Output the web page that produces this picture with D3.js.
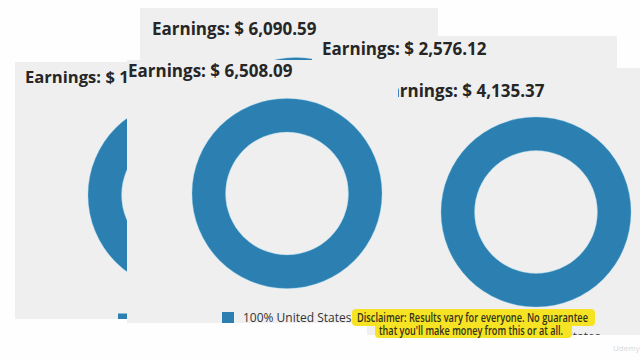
<!DOCTYPE html>
<html>
<head>
<meta charset="utf-8">
<script src="https://cdn.jsdelivr.net/npm/d3@7/dist/d3.min.js"></script>
<style>
  html, body { margin: 0; padding: 0; background: #fefefe; }
  svg { display: block; }
</style>
</head>
<body>
<svg id="chart" width="640" height="360"></svg>
<script>
// ---- data ----
const earningsLabels = ["Earnings: $ 1", "Earnings: $ 6,090.59", "Earnings: $ 2,576.12", "Earnings: $ 4,135.37", "Earnings: $ 6,508.09"];
const countries = ["United States"];
const shares = [100];
const disclaimerLines = ["Disclaimer: Results vary for everyone. No guarantee", "that you'll make money from this or at all."];
const watermark = "Udemy";

// ---- layout (back to front) ----
const panels = [
  { x: 15,  y: 62, w: 160, h: 257, tx: 25,  ty: 83, fs: 16.6, cx: 183, cy: 195 },
  { x: 140, y: 8,  w: 298, h: 300, tx: 152, ty: 35, fs: 17, cx: 296, cy: 152.5 },
  { x: 312, y: 36, w: 305, h: 280, tx: 322, ty: 55, fs: 17, cx: 469, cy: 171 },
  { x: 367, y: 68, w: 273, h: 267, tx: 380, ty: 97, fs: 17, cx: 536, cy: 212 },
  { x: 127, y: 60, w: 271, h: 263, tx: 128, ty: 77, fs: 17, cx: 287, cy: 193.5 }
];

const svg = d3.select("#chart");
svg.append("rect").attr("width", 640).attr("height", 360).attr("fill", "#fefefe");

const pie = d3.pie().sort(null).value(d => d);
const arc = d3.arc().innerRadius(61.5).outerRadius(95);
const color = d3.scaleOrdinal().domain(countries).range(["#2b80b1"]);
const defs = svg.append("defs");

panels.forEach((p, i) => {
  defs.append("clipPath").attr("id", "clip" + i)
    .append("rect").attr("x", p.x).attr("y", p.y).attr("width", p.w).attr("height", p.h);
  const g = svg.append("g").attr("clip-path", `url(#clip${i})`);
  g.append("rect").attr("x", p.x).attr("y", p.y).attr("width", p.w).attr("height", p.h).attr("fill", "#efeff0");
  g.append("text").attr("x", p.tx).attr("y", p.ty)
    .attr("font-family", "'Open Sans', sans-serif").attr("font-weight", 700)
    .attr("font-size", p.fs).attr("fill", "#262626")
    .text(earningsLabels[i]);
  const dg = g.append("g").attr("transform", `translate(${p.cx},${p.cy})`);
  dg.selectAll("path").data(pie(shares)).join("path")
    .attr("d", arc).attr("fill", (d, j) => color(countries[j]))
    .attr("stroke", "#7cc3e6").attr("stroke-width", 0.6).attr("stroke-opacity", 0.6);
  const lg = g.append("g").attr("transform", `translate(${p.cx - 65},${p.cy + 118.5})`);
  countries.forEach((c, j) => {
    lg.append("rect").attr("width", 12).attr("height", 12).attr("fill", color(c));
    lg.append("text").attr("x", 21).attr("y", 10)
      .attr("font-family", "'Open Sans', sans-serif").attr("font-size", 12).attr("fill", "#333")
      .text(`${shares[j]}% ${c}`);
  });
});

// disclaimer caption
const cap = svg.append("g");
const capBoxes = [ { x: 352, y: 309, w: 243, h: 17 }, { x: 375, y: 323, w: 197, h: 15 } ];
cap.selectAll("rect").data(capBoxes).join("rect")
  .attr("x", d => d.x).attr("y", d => d.y).attr("width", d => d.w).attr("height", d => d.h)
  .attr("rx", 4).attr("fill", "#f5e324");
const capText = [ { x: 357, y: 321.5, len: 231 }, { x: 379, y: 334.5, len: 184 } ];
cap.selectAll("text").data(disclaimerLines).join("text")
  .attr("x", (d, i) => capText[i].x).attr("y", (d, i) => capText[i].y)
  .attr("textLength", (d, i) => capText[i].len).attr("lengthAdjust", "spacingAndGlyphs")
  .attr("font-family", "'Open Sans', sans-serif").attr("font-weight", 600)
  .attr("font-size", 12.5).attr("fill", "#33321a")
  .text(d => d);

svg.append("text").attr("x", 613).attr("y", 351)
  .attr("font-family", "'Open Sans', sans-serif").attr("font-size", 8).attr("fill", "#d8d8d8")
  .text(watermark);
</script>
</body>
</html>
